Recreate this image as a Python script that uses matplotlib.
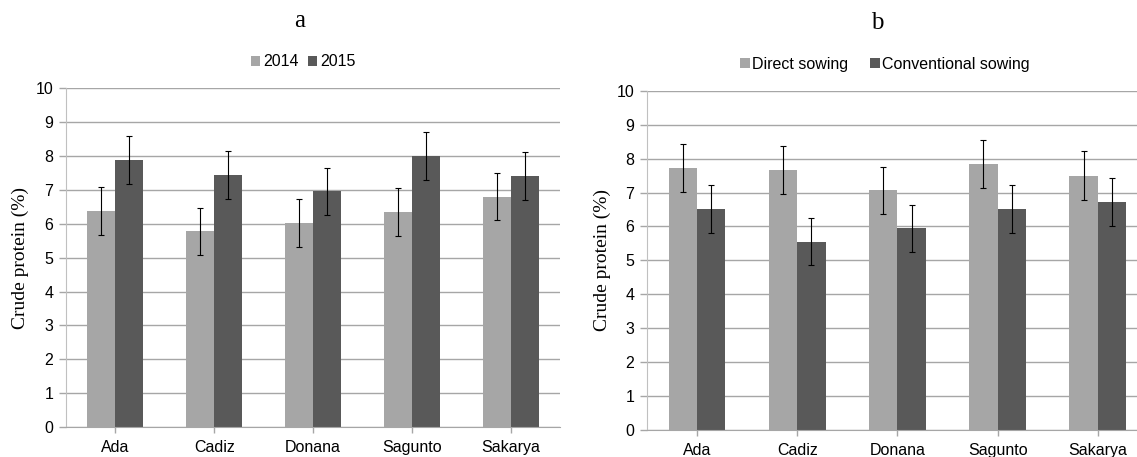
import matplotlib
matplotlib.use("Agg")
import matplotlib.pyplot as plt
import numpy as np

cultivars = ["Ada", "Cadiz", "Donana", "Sagunto", "Sakarya"]
yticks = [0, 1, 2, 3, 4, 5, 6, 7, 8, 9, 10]

# Panel a: years
year_labels = ["2014", "2015"]
cp_2014 = [6.37, 5.78, 6.03, 6.35, 6.80]
cp_2015 = [7.88, 7.45, 6.96, 8.00, 7.41]
err_2014 = [0.71, 0.70, 0.70, 0.70, 0.70]
err_2015 = [0.70, 0.71, 0.70, 0.70, 0.71]

# Panel b: sowing methods
sowing_labels = ["Direct sowing", "Conventional sowing"]
cp_direct = [7.72, 7.67, 7.06, 7.84, 7.50]
cp_conv = [6.52, 5.55, 5.94, 6.52, 6.72]
err_direct = [0.71, 0.70, 0.70, 0.71, 0.71]
err_conv = [0.70, 0.70, 0.70, 0.70, 0.70]

LIGHT = "#a6a6a6"
DARK = "#595959"
GRID = "#a6a6a6"

fig = plt.figure(figsize=(11.37, 4.57), dpi=100)
ax_a = fig.add_axes([0.058, 0.0656, 0.4345, 0.741])
ax_b = fig.add_axes([0.569, 0.059, 0.4406, 0.7425])


def draw(ax, v1, e1, v2, e2, labels, title, title_xy, leg_xy, ylab_x, colsp):
    x = np.arange(len(cultivars))
    w = 0.283
    ax.bar(x - w / 2, v1, w, color=LIGHT, label=labels[0], zorder=2)
    ax.bar(x + w / 2, v2, w, color=DARK, label=labels[1], zorder=2)
    ax.errorbar(x - w / 2, v1, yerr=e1, fmt="none", ecolor="black",
                elinewidth=0.8, capsize=2, capthick=0.8, zorder=3)
    ax.errorbar(x + w / 2, v2, yerr=e2, fmt="none", ecolor="black",
                elinewidth=0.8, capsize=2, capthick=0.8, zorder=3)
    ax.set_xlim(-0.5, len(cultivars) - 0.5)
    ax.set_ylim(0, 10)
    ax.set_yticks(yticks)
    ax.set_yticklabels([str(t) for t in yticks], fontsize=11.5,
                       family="Liberation Sans")
    ax.set_xticks(x)
    ax.set_xticklabels(cultivars, fontsize=11.5, family="Liberation Sans")
    ax.yaxis.grid(True, color=GRID, linewidth=1.0, zorder=0)
    ax.set_axisbelow(True)
    for s in ["top", "right"]:
        ax.spines[s].set_visible(False)
    ax.spines["left"].set_color("#c0c0c0")
    ax.spines["bottom"].set_color(GRID)
    ax.tick_params(axis="y", length=5, color=GRID, width=1.0, pad=4)
    ax.tick_params(axis="x", length=4, color=GRID, width=1.0, pad=5)
    ax.set_ylabel("Crude protein (%)", fontsize=14, family="Liberation Serif")
    ax.yaxis.set_label_coords(ylab_x, 0.5)
    fig.text(title_xy[0], title_xy[1], title, fontsize=18,
             family="Liberation Serif", ha="center", va="center")
    h, l = ax.get_legend_handles_labels()
    fig.legend(h[:2], l[:2], loc="center", bbox_to_anchor=leg_xy,
               ncol=2, frameon=False, handlelength=0.6, handleheight=0.6,
               handletextpad=0.15, columnspacing=colsp,
               prop={"family": "Liberation Sans", "size": 11.5})


draw(ax_a, cp_2014, err_2014, cp_2015, err_2015, year_labels, "a",
     (300 / 1137, 1 - 21 / 457), (303 / 1137, 1 - 62 / 457), -0.075, 0.6)
draw(ax_b, cp_direct, err_direct, cp_conv, err_conv, sowing_labels, "b",
     (877 / 1137, 1 - 23 / 457), (885 / 1137, 1 - 64 / 457), -0.072, 1.4)

fig.savefig("out.png", dpi=100)
